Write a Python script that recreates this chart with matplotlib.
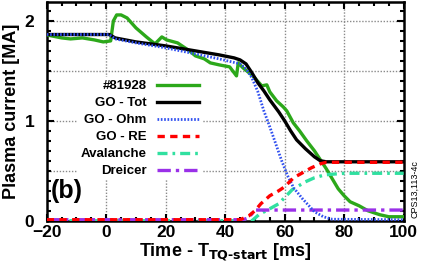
import matplotlib
matplotlib.use("Agg")
import matplotlib.pyplot as plt
from matplotlib.ticker import MultipleLocator

plt.rcParams['font.family'] = ['Liberation Sans', 'DejaVu Sans']
plt.rcParams['font.weight'] = 'bold'

# ---- data ----
exp_t = [-20, -15, -12, -8, -4, -1, 1.5, 2.4, 3.5, 5, 7, 10, 13.5, 16.4, 18.7, 20.3, 24, 28, 30, 33, 35,
         38, 41.5, 43.8, 44.4, 46, 49.3, 52.3, 54, 55, 57.3, 59.5, 60.7, 62.9, 65, 67.4, 70, 72, 74, 76,
         78, 80, 82, 85, 88, 92, 95, 100]
exp_i = [1.86, 1.83, 1.82, 1.83, 1.81, 1.79, 1.80, 2.00, 2.06, 2.06, 2.03, 1.93, 1.84, 1.77, 1.84, 1.81, 1.78, 1.70, 1.65, 1.62, 1.58,
         1.56, 1.54, 1.45, 1.58, 1.53, 1.45, 1.35, 1.36, 1.29, 1.20, 1.14, 1.10, 0.98, 0.90, 0.80, 0.70, 0.61, 0.52, 0.42,
         0.32, 0.25, 0.19, 0.15, 0.10, 0.06, 0.04, 0.04]

tot_t = [-20, 1, 3, 10, 20, 30, 38, 43, 45, 47, 49, 51, 53, 55, 58, 60, 62, 64, 67, 70, 72, 74, 100]
tot_i = [1.864, 1.864, 1.83, 1.79, 1.75, 1.70, 1.66, 1.63, 1.61, 1.57, 1.48, 1.38, 1.30, 1.21, 1.09, 1.00, 0.90, 0.81, 0.72, 0.64, 0.60, 0.59, 0.59]

ohm_t = [-20, 1, 3, 10, 20, 30, 38, 45, 47, 49, 51, 53, 55, 57, 59, 61, 63, 66, 70, 73, 76, 100]
ohm_i = [1.864, 1.864, 1.82, 1.78, 1.73, 1.67, 1.62, 1.57, 1.52, 1.43, 1.29, 1.10, 0.94, 0.77, 0.60, 0.45, 0.33, 0.22, 0.09, 0.04, 0.015, 0.01]

re_t = [-20, 45, 48, 50, 52, 55, 58, 60, 63, 66, 69, 72, 74, 100]
re_i = [0.01, 0.01, 0.05, 0.10, 0.17, 0.25, 0.30, 0.34, 0.43, 0.48, 0.53, 0.57, 0.585, 0.585]

ava_t = [-20, 49, 51.3, 55, 58, 62.5, 67, 70, 73.6, 80, 100]
ava_i = [0.0, 0.0, 0.06, 0.12, 0.17, 0.31, 0.39, 0.43, 0.46, 0.475, 0.475]

dre_t = [-20, 46, 47.9, 50, 100]
dre_i = [0.01, 0.01, 0.03, 0.107, 0.107]

labels = ['#81928', 'GO - Tot', 'GO - Ohm', 'GO - RE', 'Avalanche', 'Dreicer']

# ---- figure ----
fig = plt.figure(figsize=(4.25, 2.78), dpi=100)
ax = fig.add_axes([0.11, 0.206, 0.8397, 0.787])

ax.plot(exp_t, exp_i, color='#2ca81a', lw=2.4, label=labels[0], zorder=3)
ax.plot(tot_t, tot_i, color='black', lw=2.4, label=labels[1], zorder=4)
ax.plot(ohm_t, ohm_i, color='#3050f0', lw=2.0, ls=(0, (0.6, 0.6)), label=labels[2], zorder=5)
ax.plot(re_t, re_i, color='#ff0000', lw=2.4, ls=(0, (2.2, 1.6)), label=labels[3], zorder=5)
ax.plot(ava_t, ava_i, color='#30e0a0', lw=2.4, ls=(0, (3, 1.5, 0.8, 1.5)), label=labels[4], zorder=4)
ax.plot(dre_t, dre_i, color='#9a30e8', lw=2.4, ls=(0, (4, 1.5, 1, 1.5)), label=labels[5], zorder=4)

ax.set_xlim(-20, 100)
ax.set_ylim(0, 2.19)
ax.xaxis.set_major_locator(MultipleLocator(20))
ax.xaxis.set_minor_locator(MultipleLocator(5))
ax.yaxis.set_major_locator(MultipleLocator(1))
ax.yaxis.set_minor_locator(MultipleLocator(0.1))

for x in [0, 20, 40, 60, 80]:
    ax.axvline(x, color='#8a8a8a', lw=1.0, ls=(0, (1, 1.2)), zorder=1)
for y in [0.5, 1.0, 1.5, 2.0]:
    ax.axhline(y, color='#8a8a8a', lw=1.0, ls=(0, (1, 1.2)), zorder=1)

ax.tick_params(which='both', direction='in', top=True, right=True, width=1.5)
ax.tick_params(which='major', length=5, labelsize=12.5, pad=3)
ax.tick_params(which='minor', length=3)
ax.tick_params(axis='y', which='major', pad=9)
for s in ax.spines.values():
    s.set_linewidth(1.8)
for lab in ax.get_xticklabels() + ax.get_yticklabels():
    lab.set_fontweight('bold')

ax.set_ylabel('Plasma current [MA]', fontsize=13, fontweight='bold', labelpad=3)
ax.set_xlabel(r'Time - T$_{\mathbf{TQ\text{-}start}}$ [ms]', fontsize=13, fontweight='bold', labelpad=1)

leg = ax.legend(loc='upper right', bbox_to_anchor=(0.435, 0.655), markerfirst=False,
                frameon=True, fontsize=9.5, handlelength=3.2, handletextpad=0.8,
                labelspacing=0.36, borderpad=0.2, borderaxespad=0)
leg.get_frame().set_facecolor('white')
leg.get_frame().set_edgecolor('none')
leg.get_frame().set_alpha(1)
leg.set_zorder(6)
for t in leg.get_texts():
    t.set_fontweight('bold')

ax.text(0.012, 0.08, '(b)', transform=ax.transAxes, fontsize=18, fontweight='bold', ha='left', va='bottom', zorder=7)
fig.text(0.975, 0.215, 'CPS13,113-4c', rotation=90, fontsize=6.5, fontweight='normal', ha='center', va='bottom')

fig.savefig('out.png', dpi=100)
